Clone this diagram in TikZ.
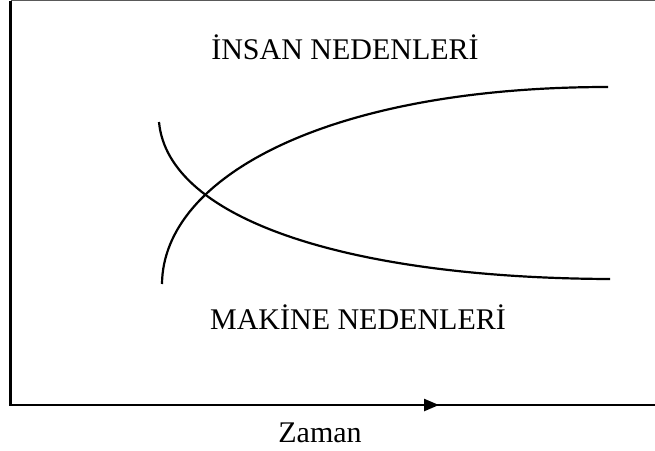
\documentclass[tikz,border=0pt]{standalone}
\usepackage{fontspec}
\setmainfont{Liberation Serif}
\usetikzlibrary{arrows.meta}
\tikzset{
  curve/.style={line width=2.2pt, black},
  frameline/.style={line width=2.2pt, black},
  label/.style={font=\fontsize{30}{34}\selectfont, anchor=base, inner sep=0pt},
}
\begin{document}
\begin{tikzpicture}[x=1pt,y=-1pt]
\useasboundingbox (0,0) rectangle (655,450);
% frame
\coordinate (tl) at (10.5,0.7);
\coordinate (tr) at (655,0.7);
\coordinate (bl) at (10.5,405);
\coordinate (br) at (655,405);
\draw[line width=1.4pt, black!65] (tl) -- (tr);
\draw[frameline] (tl) -- (bl) -- (br);
% time arrow
\coordinate (a0) at (190,405);
\coordinate (a1) at (439,405);
\draw[line width=2.4pt, -{Triangle[length=15pt,width=12pt]}] (a0) -- (a1);
% curves
\coordinate (ha) at (162,284);
\coordinate (hb) at (608,87);
\draw[curve] (ha) .. controls (163,176) and (330,87) .. (hb);
\coordinate (ma) at (159,122);
\coordinate (mb) at (610,279);
\draw[curve] (ma) .. controls (168,220) and (350,278) .. (mb);
% labels
\node[label] (insan) at (345,59) {İNSAN NEDENLERİ};
\node[label] (makine) at (358,329) {MAKİNE NEDENLERİ};
\node[label] (zaman) at (320,442) {Zaman};
\end{tikzpicture}
\end{document}
